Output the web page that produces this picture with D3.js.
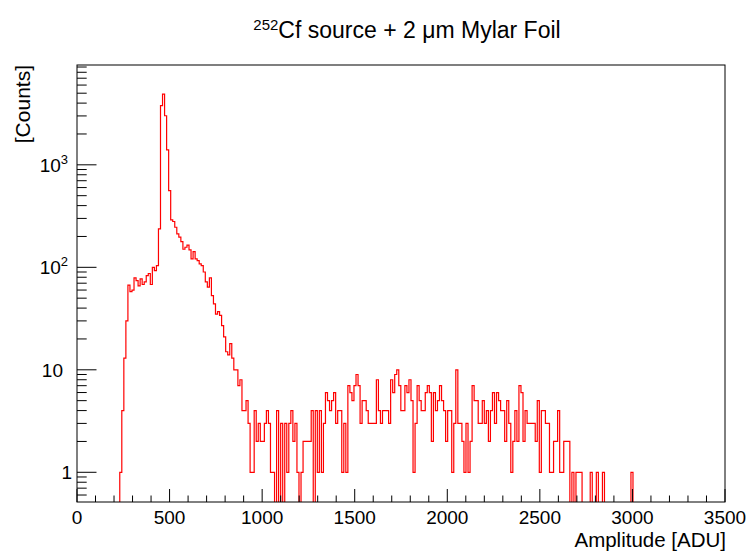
<!DOCTYPE html>
<html>
<head>
<meta charset="utf-8">
<script src="https://cdn.jsdelivr.net/npm/d3@7"></script>
<style>
body { margin: 0; background: #fff; }
text { font-family: "Liberation Sans", Arial, Helvetica, sans-serif; fill: #000; }
</style>
</head>
<body>
<div id="vis"></div>
<script>
// histogram
const BIN_WIDTH = 11;   // ADU per bin
const FIRST_BIN = 21;   // index of the first filled bin
const COUNTS = [
	1, 4, 13, 30, 67, 58, 60, 79, 74, 66, 77, 68, 72, 83, 87, 68, 100, 93, 104,
	237, 3775, 4900, 3013, 1397, 561, 290, 280, 246, 212, 197, 178, 150, 157, 165,
	148, 121, 142, 121, 116, 108, 104, 90, 72, 64, 79, 53, 44, 35, 37, 34, 27, 21,
	15, 14, 18, 13, 10, 10, 7, 8, 4, 4, 5, 3, 1, 1, 4, 2, 3, 2, 2, 3, 4, 3, 1, 1,
	0, 4, 0, 3, 0, 3, 1, 3, 4, 2, 3, 1, 0, 1, 2, 2, 2, 2, 4, 0, 4, 1, 4, 1, 3, 6,
	5, 4, 5, 6, 3, 4, 4, 1, 3, 1, 7, 6, 5, 7, 9, 7, 3, 5, 5, 4, 3, 3, 3, 3, 8, 4,
	3, 4, 4, 4, 3, 8, 6, 9, 10, 7, 4, 4, 7, 6, 8, 5, 1, 3, 7, 5, 4, 4, 6, 7, 6, 2,
	6, 4, 5, 7, 5, 4, 2, 4, 4, 1, 3, 10, 3, 3, 2, 1, 3, 1, 2, 7, 5, 5, 3, 3, 5, 3,
	4, 2, 4, 6, 3, 6, 5, 4, 4, 2, 5, 3, 1, 2, 4, 2, 7, 6, 2, 4, 3, 3, 3, 3, 2, 5,
	1, 4, 4, 3, 3, 1, 1, 2, 2, 4, 1, 1, 2, 2, 2, 0, 1, 0, 1, 1, 1, 0, 0, 0, 0, 1,
	0, 0, 1, 0, 0, 1, 0, 0, 0, 0, 0, 0, 0, 0, 0, 0, 0, 0, 0, 1
];
const X_TICKS = [0, 500, 1000, 1500, 2000, 2500, 3000, 3500];
const Y_TICKS = [1, 10, 100, 1000];
const Y_TICK_BASE = ["1", "10", "10", "10"];
const Y_TICK_EXP = ["", "", "2", "3"];

const TITLE_SUP = "252";
const TITLE = "Cf source + 2 \u03bcm Mylar Foil";
const X_TITLE = "Amplitude [ADU]";
const Y_TITLE = "[Counts]";

// frame
const FRAME_WIDTH = 746;
const FRAME_HEIGHT = 552;
const MARGINS = {left: 77, right: 21, top: 65, bottom: 50};
const PLOT_RIGHT = FRAME_WIDTH - MARGINS.right;
const PLOT_BOTTOM = FRAME_HEIGHT - MARGINS.bottom;

const svg = d3.select("#vis")
	.append("svg")
	.attr("width", FRAME_WIDTH)
	.attr("height", FRAME_HEIGHT);

svg.append("rect")
	.attr("width", FRAME_WIDTH)
	.attr("height", FRAME_HEIGHT)
	.attr("fill", "#fff");

const X_SCALE = d3.scaleLinear()
	.domain([0, 3500])
	.range([MARGINS.left, PLOT_RIGHT]);

const Y_SCALE = d3.scaleLog()
	.domain([0.513, 9420])
	.range([PLOT_BOTTOM, MARGINS.top]);

svg.append("clipPath").attr("id", "clip")
	.append("rect")
	.attr("x", MARGINS.left)
	.attr("y", MARGINS.top)
	.attr("width", PLOT_RIGHT - MARGINS.left)
	.attr("height", PLOT_BOTTOM - MARGINS.top);

// histogram outline, empty bins drop to the frame bottom
const nBins = Math.ceil(3500 / BIN_WIDTH);
const pts = [];
for (let i = 0; i < nBins; i++) {
	const c = (i >= FIRST_BIN && i < FIRST_BIN + COUNTS.length) ? COUNTS[i - FIRST_BIN] : 0;
	const yy = c > 0 ? Y_SCALE(c) : PLOT_BOTTOM + 2;
	pts.push([X_SCALE(i * BIN_WIDTH), yy]);
	pts.push([X_SCALE((i + 1) * BIN_WIDTH), yy]);
}

svg.append("path")
	.attr("clip-path", "url(#clip)")
	.attr("d", d3.line()(pts))
	.attr("fill", "none")
	.attr("stroke", "#ff0000")
	.attr("stroke-width", 1.2);

// frame box
svg.append("rect")
	.attr("x", MARGINS.left)
	.attr("y", MARGINS.top)
	.attr("width", PLOT_RIGHT - MARGINS.left)
	.attr("height", PLOT_BOTTOM - MARGINS.top)
	.attr("fill", "none")
	.attr("stroke", "#000")
	.attr("stroke-width", 1);

// x axis ticks
const xMinor = X_SCALE.ticks(35);
svg.append("g").selectAll("line")
	.data(xMinor)
	.join("line")
	.attr("x1", d => X_SCALE(d))
	.attr("x2", d => X_SCALE(d))
	.attr("y1", PLOT_BOTTOM)
	.attr("y2", d => PLOT_BOTTOM - (X_TICKS.includes(d) ? 13 : 6.5))
	.attr("stroke", "#000");

svg.append("g").selectAll("text")
	.data(X_TICKS)
	.join("text")
	.attr("x", d => X_SCALE(d))
	.attr("y", 524)
	.attr("text-anchor", "middle")
	.attr("font-size", "19px")
	.text(d => d);

// y axis ticks
const yMinor = Y_SCALE.ticks();
svg.append("g").selectAll("line")
	.data(yMinor)
	.join("line")
	.attr("x1", MARGINS.left)
	.attr("x2", d => MARGINS.left + (Y_TICKS.includes(d) ? 19.5 : 9.7))
	.attr("y1", d => Y_SCALE(d))
	.attr("y2", d => Y_SCALE(d))
	.attr("stroke", "#000");

// plain "10" sits a bit further left than "1" in the reference
const yLabels = svg.append("g").selectAll("text")
	.data(Y_TICKS)
	.join("text")
	.attr("x", (d, i) => i === 0 ? 72 : (i === 1 ? 63 : 68))
	.attr("y", d => Y_SCALE(d) + 7)
	.attr("text-anchor", "end")
	.attr("font-size", "19px");
yLabels.append("tspan").text((d, i) => Y_TICK_BASE[i]);
yLabels.append("tspan")
	.attr("dy", -8)
	.attr("font-size", "13px")
	.text((d, i) => Y_TICK_EXP[i]);

// titles
const title = svg.append("text")
	.attr("x", 407)
	.attr("y", 38)
	.attr("text-anchor", "middle")
	.attr("font-size", "23px");
title.append("tspan")
	.attr("font-size", "15px")
	.attr("dy", -8)
	.text(TITLE_SUP);
title.append("tspan")
	.attr("dy", 8)
	.text(TITLE);

svg.append("text")
	.attr("x", PLOT_RIGHT + 1)
	.attr("y", 547)
	.attr("text-anchor", "end")
	.attr("font-size", "20.5px")
	.text(X_TITLE);

svg.append("text")
	.attr("transform", "translate(30," + MARGINS.top + ") rotate(-90)")
	.attr("text-anchor", "end")
	.attr("font-size", "21px")
	.text(Y_TITLE);
</script>
</body>
</html>
